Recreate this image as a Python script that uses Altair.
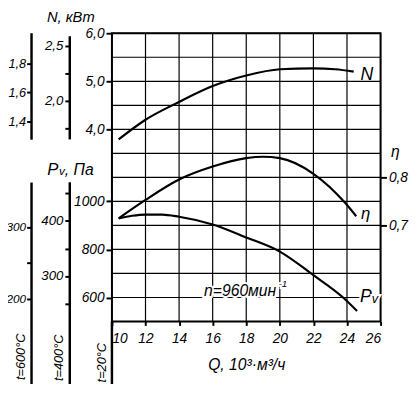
import altair as alt
import pandas as pd

# ---------------- data ----------------
Q_N = [10.4, 12.0, 14.0, 16.0, 18.0, 20.0, 22.0, 23.3, 24.4]
N_VAL = [3.79, 4.20, 4.57, 4.90, 5.12, 5.25, 5.27, 5.25, 5.20]

Q_ETA = [10.4, 12.0, 14.0, 16.0, 18.0, 19.0, 20.0, 22.0, 23.9, 24.55]
ETA_VAL = [0.7145, 0.753, 0.7955, 0.8225, 0.840, 0.843, 0.840, 0.8075, 0.7465, 0.719]

Q_PV = [10.4, 11.2, 12.0, 13.0, 14.0, 16.0, 18.0, 20.0, 22.0, 23.8, 24.6]
PV_VAL = [929, 940, 945, 945, 936, 904, 850, 791, 693, 598, 544]

Q_TICKS = [10, 12, 14, 16, 18, 20, 22, 24, 26]
PV_GRID = [500, 600, 700, 800, 900, 1000, 1100, 1200, 1300, 1400, 1500, 1600, 1700]
N_TICKS = [4.0, 5.0, 6.0]
PV_TICKS = [600, 800, 1000]
ETA_TICKS = [0.7, 0.8]
N400_TICKS = [1.75, 2.0, 2.25, 2.5]
N600_TICKS = [1.4, 1.6, 1.8]
PV400_TICKS = [250, 300, 350, 400, 450]
PV600_TICKS = [200, 250, 300]

# density ratios of the temperature scales (20 °C reference)
K400 = (273 + 20) / (273 + 400)
K600 = (273 + 20) / (273 + 600)

N_DOM = [0, 6]
PV_DOM = [500, 1700]
ETA_DOM = [0.5, 1.1]

FONT = "Liberation Sans, Arial, sans-serif"
FS = 14

xs = alt.Scale(domain=[10, 26], nice=False, zero=False)

X_AXIS = alt.Axis(
    values=Q_TICKS, grid=False, domain=False, tickSize=4, tickWidth=2, tickColor="black",
    labelFont=FONT, labelFontSize=FS, labelFontStyle="italic", labelColor="black",
    labelPadding=6, title="Q, 10³·м³/ч", titleFont=FONT, titleFontSize=16,
    titleFontStyle="italic", titleFontWeight="normal", titleColor="black", titlePadding=12)


def X():
    return alt.X("q:Q", scale=xs, axis=X_AXIS)


def ysc(dom):
    return alt.Scale(domain=dom, nice=False, zero=False)


def comma_expr(fmt, show=None):
    base = f"replace(format(datum.value, '{fmt}'), '.', ',')"
    if show is None:
        return base
    return f"({show}) ? {base} : ''"


def axis(orient, values, offset=0, label_expr=None, size=FS, tick=5, pad=2):
    kw = dict(orient=orient, values=values, offset=offset, domain=False, grid=False,
              ticks=True, tickSize=tick, tickWidth=2, tickColor="black",
              labelFont=FONT, labelFontSize=size, labelFontStyle="italic",
              labelColor="black", labelPadding=pad, title=None)
    if label_expr is not None:
        kw["labelExpr"] = label_expr
    return alt.Axis(**kw)


one = pd.DataFrame({"a": [0]})

# ---------------- grid ----------------
hgrid = alt.Chart(pd.DataFrame({"v": PV_GRID})).mark_rule(color="black", strokeWidth=1.2).encode(
    y=alt.Y("v:Q", scale=ysc(PV_DOM), axis=None)
)
vgrid = alt.Chart(pd.DataFrame({"q": Q_TICKS})).mark_rule(color="black", strokeWidth=1.2).encode(
    x=X()
)

# ---------------- curves ----------------
line_kw = dict(color="black", strokeWidth=2.2, interpolate="monotone")
n_line = alt.Chart(pd.DataFrame({"q": Q_N, "v": N_VAL})).mark_line(**line_kw).encode(
    x=X(),
    y=alt.Y("v:Q", scale=ysc(N_DOM), axis=axis("left", N_TICKS, 0, comma_expr(".1f"), tick=6)),
)
eta_line = alt.Chart(pd.DataFrame({"q": Q_ETA, "v": ETA_VAL})).mark_line(**line_kw).encode(
    x=X(),
    y=alt.Y("v:Q", scale=ysc(ETA_DOM), axis=axis("right", ETA_TICKS, 0, comma_expr(".1f"), tick=6)),
)
pv_line = alt.Chart(pd.DataFrame({"q": Q_PV, "v": PV_VAL})).mark_line(**line_kw).encode(
    x=X(),
    y=alt.Y("v:Q", scale=ysc(PV_DOM),
            axis=axis("left", PV_TICKS, 0, "format(datum.value, 'd')", tick=6)),
)

# ---------------- auxiliary temperature axes ----------------
def aux(lo, hi, dom, values, offset, label_expr, size, tick, pad):
    return alt.Chart(pd.DataFrame({"lo": [lo], "hi": [hi]})).mark_rule(
        color="black", strokeWidth=2.5).encode(
        x=alt.value(-offset),
        y=alt.Y("lo:Q", scale=ysc(dom),
                axis=axis("left", values, offset, label_expr, size=size, tick=tick, pad=pad)),
        y2="hi:Q",
    )


HUND = "datum.value % 100 == 0 ? format(datum.value, 'd') : ''"
n600 = aux(1.27, 2.014, [N_DOM[0] * K600, N_DOM[1] * K600], N600_TICKS, 82,
           comma_expr(".1f"), 13, 5, 1)
n400 = aux(1.65, 2.585, [N_DOM[0] * K400, N_DOM[1] * K400], N400_TICKS, 43,
           comma_expr(".1f", "datum.value == 2 || datum.value == 2.5"), 13.5, 5, 2)
p600 = aux(60, 362, [PV_DOM[0] * K600, PV_DOM[1] * K600], PV600_TICKS, 82, HUND, 12, 5, 1)
p400 = aux(80, 470, [PV_DOM[0] * K400, PV_DOM[1] * K400], PV400_TICKS, 43, HUND, 13.5, 5, 2)
p20_ext = alt.Chart(pd.DataFrame({"lo": [200], "hi": [500]})).mark_rule(
    color="black", strokeWidth=2.5).encode(
    x=alt.value(0), y=alt.Y("lo:Q", scale=ysc(PV_DOM), axis=None), y2="hi:Q")

# ---------------- texts ----------------
def txt(text, x, y, size=FS, align="center", baseline="alphabetic", angle=0, halo=False):
    kw = dict(text=text, font=FONT, fontSize=size, fontStyle="italic", align=align,
              baseline=baseline, color="black")
    if angle:
        kw["angle"] = angle
    layers = []
    if halo:
        layers.append(alt.Chart(one).mark_text(stroke="white", strokeWidth=4, **kw).encode(
            x=alt.value(x), y=alt.value(y)))
    layers.append(alt.Chart(one).mark_text(**kw).encode(x=alt.value(x), y=alt.value(y)))
    return layers


def end_label(text, q, v, dom, dx, dy, size, halo=False):
    kw = dict(text=text, font=FONT, fontSize=size, fontStyle="italic", align="left",
              baseline="alphabetic", dx=dx, dy=dy, color="black")
    d = pd.DataFrame({"q": [q], "v": [v]})
    enc = dict(x=X(), y=alt.Y("v:Q", scale=ysc(dom), axis=None))
    layers = []
    if halo:
        layers.append(alt.Chart(d).mark_text(stroke="white", strokeWidth=4, **kw).encode(**enc))
    layers.append(alt.Chart(d).mark_text(**kw).encode(**enc))
    return layers


texts = []
texts += txt("N, кВт", -42, -11, size=15)
texts += txt("P", -66, 145, size=17, align="left")
texts += txt("v", -54, 145, size=12, align="left")
texts += txt(", Па", -48, 145, size=16, align="left")
texts += txt("η", 289, 126, size=16)
texts += txt("t=600°C", -93, 330, size=13, baseline="middle", angle=270)
texts += txt("t=400°C", -54, 331, size=13, baseline="middle", angle=270)
texts += txt("t=20°C", -10, 336, size=13, baseline="middle", angle=270)
texts += txt("n=960мин", 94, 268, size=16, align="left", halo=True)
texts += txt("-1", 170, 259, size=10, align="left", halo=True)

texts += end_label("N", Q_N[-1], N_VAL[-1], N_DOM, 7, 8, 18)
texts += end_label("η", Q_ETA[-1], ETA_VAL[-1], ETA_DOM, 5, 3, 17)
texts += end_label("P", Q_PV[-1], PV_VAL[-1], PV_DOM, 3, -9, 18, halo=True)
texts += end_label("v", Q_PV[-1], PV_VAL[-1], PV_DOM, 15, -8, 13, halo=True)

chart = alt.layer(
    hgrid, vgrid, n_line, eta_line, pv_line, n600, n400, p600, p400, p20_ext, *texts
).resolve_scale(y="independent").resolve_axis(y="independent").properties(
    width=274, height=294,
    autosize=alt.AutoSizeParams(type="none"),
    padding={"left": 106, "top": 22, "right": 29, "bottom": 60},
    background="white",
).configure_view(stroke="black", strokeWidth=2)

chart.save("out.html", embed_options={"renderer": "svg", "actions": False})
